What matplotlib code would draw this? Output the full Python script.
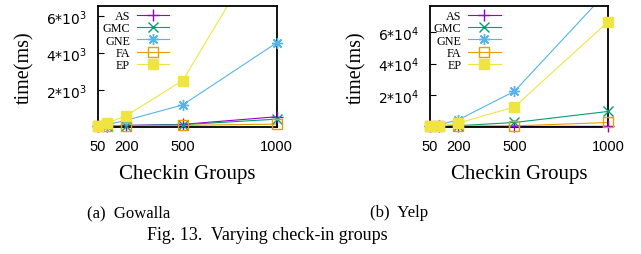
import numpy as np
import matplotlib
matplotlib.use("Agg")
import matplotlib.pyplot as plt

# ---------------- data ----------------
groups = [50, 100, 200, 500, 1000]
xticks = [50, 200, 500, 1000]
series_names = ["AS", "GMC", "GNE", "FA", "EP"]

gowalla_AS = [20, 30, 60, 115, 530]
gowalla_GMC = [15, 25, 50, 100, 400]
gowalla_GNE = [20, 100, 340, 1170, 4550]
gowalla_FA = [10, 20, 40, 60, 130]
gowalla_EP = [20, 185, 585, 2500, 11000]

yelp_AS = [20, 30, 50, 80, 100]
yelp_GMC = [100, 200, 500, 2550, 9600]
yelp_GNE = [400, 1000, 4200, 22400, 86600]
yelp_FA = [50, 100, 200, 400, 2550]
yelp_EP = [100, 200, 2100, 12500, 66800]

gowalla_yticks = [2000, 4000, 6000]
gowalla_yticklabels = [r"$\mathregular{2{*}10^{3}}$", r"$\mathregular{4{*}10^{3}}$", r"$\mathregular{6{*}10^{3}}$"]
yelp_yticks = [20000, 40000, 60000]
yelp_yticklabels = [r"$\mathregular{2{*}10^{4}}$", r"$\mathregular{4{*}10^{4}}$", r"$\mathregular{6{*}10^{4}}$"]

gowalla_ymax = 6550
yelp_ymax = 76700

xlabel = "Checkin Groups"
ylabel = "time(ms)"
caption_a = "(a)  Gowalla"
caption_b = "(b)  Yelp"
fig_caption = "Fig. 13.  Varying check-in groups"

# ---------------- style ----------------
plt.rcParams["mathtext.fontset"] = "custom"
plt.rcParams["mathtext.rm"] = "Liberation Sans"
plt.rcParams["mathtext.it"] = "Liberation Sans:italic"
plt.rcParams["mathtext.bf"] = "Liberation Sans:bold"
serif = "Liberation Serif"
sans = "Liberation Sans"

colors = {"AS": "#9400D3", "GMC": "#009E73", "GNE": "#56B4E9", "FA": "#E69F00", "EP": "#F0E442"}
markers = {"AS": "+", "GMC": "x", "GNE": (8, 2, 0), "FA": "s", "EP": "s"}
mfc = {"AS": "none", "GMC": "none", "GNE": "none", "FA": "none", "EP": "#F0E442"}
msize = {"AS": 8, "GMC": 7, "GNE": 8, "FA": 7, "EP": 7.5}

W, H = 641, 255
fig = plt.figure(figsize=(W / 100, H / 100), dpi=100)

ax_pos = [
    [98 / W, 1 - 127.5 / H, 178.7 / W, 120.5 / H],
    [430 / W, 1 - 127.5 / H, 178.3 / W, 120.5 / H],
]

datasets = [
    ([gowalla_AS, gowalla_GMC, gowalla_GNE, gowalla_FA, gowalla_EP], gowalla_ymax, gowalla_yticks, gowalla_yticklabels, 0.399),
    ([yelp_AS, yelp_GMC, yelp_GNE, yelp_FA, yelp_EP], yelp_ymax, yelp_yticks, yelp_yticklabels, 0.3965),
]

for pos, (vals, ymax, yt, ytl, legx) in zip(ax_pos, datasets):
    ax = fig.add_axes(pos)
    for name, v in zip(series_names, vals):
        x = np.array(groups, dtype=float)
        y = np.array(v, dtype=float)
        # line (clipped to axes)
        ax.plot(x, y, color=colors[name], lw=0.8, zorder=2)
        # markers (not clipped, only those inside the y range)
        m = y <= ymax
        ax.plot(x[m], y[m], ls="none", marker=markers[name], ms=msize[name],
                mec=colors[name], mfc=mfc[name], mew=1.0, clip_on=False, zorder=3)
        # legend proxy
        ax.plot([], [], color=colors[name], lw=0.8, marker=markers[name], ms=msize[name],
                mec=colors[name], mfc=mfc[name], mew=1.0, label=name)
    ax.set_xlim(50, 1000)
    ax.set_ylim(0, ymax)
    ax.set_xticks(xticks)
    ax.set_xticklabels([str(t) for t in xticks], fontfamily=sans, fontsize=10.5)
    ax.set_yticks(yt)
    ax.set_yticklabels(ytl, fontsize=10)
    ax.tick_params(direction="in", length=4, width=0.8, pad=8)
    ax.tick_params(axis="x", pad=9)
    for sp in ax.spines.values():
        sp.set_linewidth(1.3)
        sp.set_zorder(2.5)
    ax.set_xlabel(xlabel, fontfamily=serif, fontsize=15)
    ax.xaxis.label.set_va("center")
    ax.xaxis.set_label_coords(0.5, -(175 - 127.5) / 120.5)
    ax.set_ylabel(ylabel, fontfamily=serif, fontsize=14.5)
    ax.yaxis.label.set_va("center")
    ax.yaxis.set_label_coords(-73 / 178.5, 0.5)
    leg = ax.legend(loc="upper right", bbox_to_anchor=(legx, 0.965), frameon=False,
                    markerfirst=False, prop={"family": serif, "size": 8.7},
                    handlelength=2.7, handletextpad=0.55, labelspacing=0.02,
                    borderpad=0, borderaxespad=0)

fig.text(128.5 / W, 1 - 213 / H, caption_a, fontfamily=serif, fontsize=12, ha="center", va="center")
fig.text(399 / W, 1 - 213 / H, caption_b, fontfamily=serif, fontsize=12, ha="center", va="center")
fig.text(267.5 / W, 1 - 236 / H, fig_caption, fontfamily=serif, fontsize=13, ha="center", va="center")

fig.savefig("out.png", dpi=100)
